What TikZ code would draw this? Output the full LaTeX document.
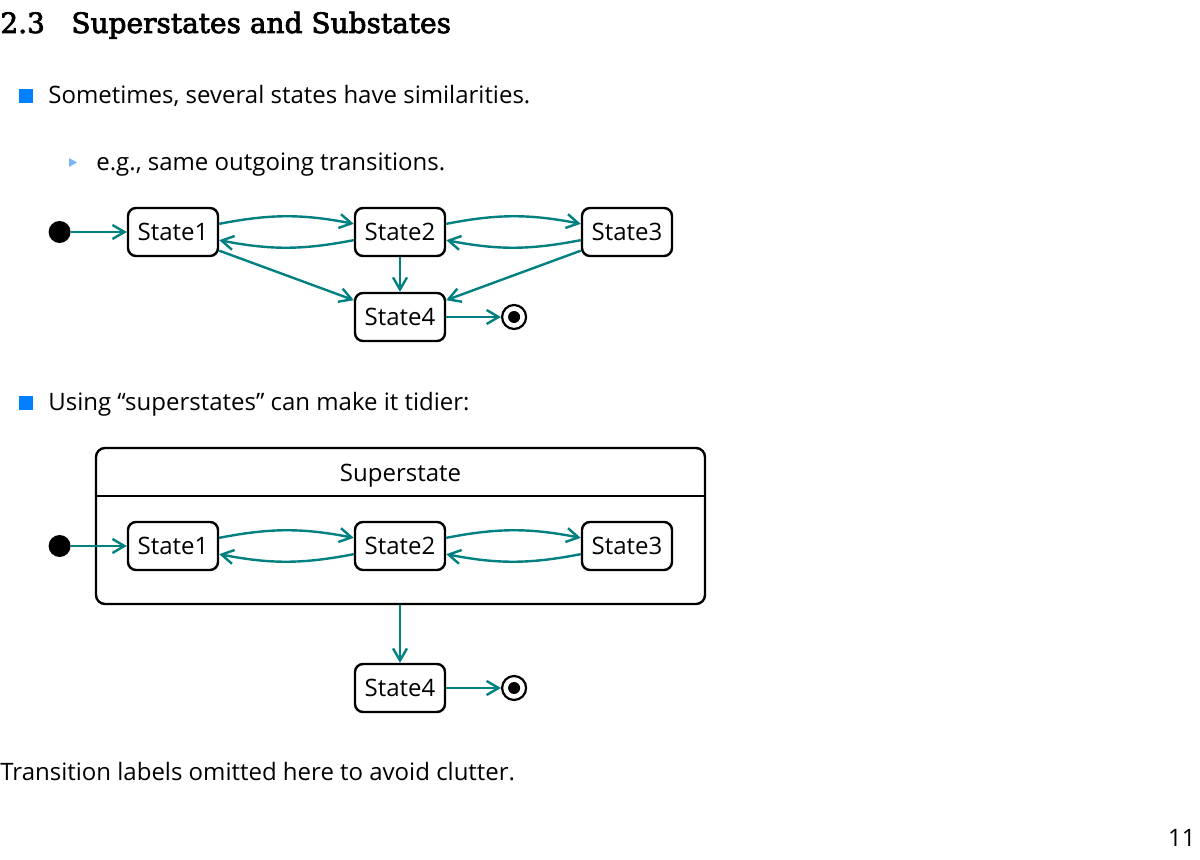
\documentclass[tikz,border=0pt]{standalone}
\usepackage{fontspec}
\setmainfont{Open Sans}
\newfontfamily\headfont[FakeBold=2.6]{DejaVu Serif}
\usetikzlibrary{arrows.meta,positioning,calc}

\definecolor{bulletblue}{RGB}{0,128,255}
\definecolor{subblue}{RGB}{120,180,250}
\definecolor{transteal}{RGB}{0,128,128}

\begin{document}
\begin{tikzpicture}[
  x=0.5pt, y=-0.5pt,
  >={Straight Barb[length=6pt,width=7pt]},
  node distance=67.3pt,
  state/.style={rectangle, rounded corners=4pt, draw=black, line width=1.2pt,
    minimum width=45pt, minimum height=24pt, inner sep=0pt,
    font=\fontsize{12}{14}\selectfont},
  initial/.style={circle, fill=black, minimum size=11pt, inner sep=0pt},
  final/.style={circle, draw=black, line width=1.1pt, fill=white,
    minimum size=12pt, inner sep=0pt,
    path picture={\fill[black] (path picture bounding box.center) circle (3pt);}},
  trans/.style={draw=transteal, line width=1.2pt, ->},
  body/.style={anchor=base west, inner sep=0pt, font=\fontsize{12}{14}\selectfont},
  bullet/.style={rectangle, fill=bulletblue, minimum size=7pt, inner sep=0pt},
]
  \useasboundingbox (0,0) rectangle (1200,860);

  % heading and text
  \node[anchor=base west, inner sep=0pt, font=\headfont\fontsize{14}{17}\selectfont] (num) at (0,33) {2.3};
  \node[anchor=base west, inner sep=0pt, font=\headfont\fontsize{14}{17}\selectfont] (title) at (71,33) {Superstates and Substates};
  \node[bullet] (b1) at (26,96) {};
  \node[body] (t1) at (48,104) {Sometimes, several states have similarities.};
  \fill[subblue] (69,158) -- (77,162.5) -- (69,167) -- cycle;
  \node[body] (t2) at (96,171) {e.g., same outgoing transitions.};

  % flat machine
  \node[state] (s1) at (173,232) {State1};
  \node[state, right=of s1] (s2) {State2};
  \node[state, right=of s2] (s3) {State3};
  \node[state, below=17.3pt of s2] (s4) {State4};
  \node[initial, left=27.9pt of s1] (init) {};
  \node[final, right=27.4pt of s4] (fin) {};
  \draw[trans] (init) -- (s1);
  \draw[trans] (s1.10) to[bend left=11] (s2.170);
  \draw[trans] (s2.190) to[bend left=11] (s1.350);
  \draw[trans] (s2.10) to[bend left=11] (s3.170);
  \draw[trans] (s3.190) to[bend left=11] (s2.350);
  \draw[trans] (s1.-22) -- (s4.160);
  \draw[trans] (s2) -- (s4);
  \draw[trans] (s3.202) -- (s4.20);
  \draw[trans] (s4) -- (fin);

  \node[bullet] (b2) at (26,403) {};
  \node[body] (t3) at (48,411) {Using “superstates” can make it tidier:};

  % with superstate
  \node[rectangle, rounded corners=4.5pt, draw=black, line width=1.2pt,
    minimum width=304.5pt, minimum height=78pt, inner sep=0pt] (super) at (400.5,526) {};
  \draw[line width=1.2pt] (super.west |- 0,496) -- (super.east |- 0,496);
  \node[anchor=base, font=\fontsize{12}{14}\selectfont, inner sep=0pt] (slabel) at (400.5,482) {Superstate};
  \node[state] (s1b) at (173,546) {State1};
  \node[state, right=of s1b] (s2b) {State2};
  \node[state, right=of s2b] (s3b) {State3};
  \node[state, below=28.8pt of s2b.south |- super.south] (s4b) {State4};
  \node[initial, left=27.9pt of s1b] (initb) {};
  \node[final, right=27.4pt of s4b] (finb) {};
  \draw[trans] (initb) -- (s1b);
  \draw[trans] (s1b.10) to[bend left=11] (s2b.170);
  \draw[trans] (s2b.190) to[bend left=11] (s1b.350);
  \draw[trans] (s2b.10) to[bend left=11] (s3b.170);
  \draw[trans] (s3b.190) to[bend left=11] (s2b.350);
  \draw[trans] (super.south -| s2b) -- (s4b);
  \draw[trans] (s4b) -- (finb);

  \node[body] (t4) at (0,781) {Transition labels omitted here to avoid clutter.};
  \node[anchor=base east, inner sep=0pt, font=\fontsize{12}{14}\selectfont] (page) at (1196,846) {11};
\end{tikzpicture}
\end{document}
